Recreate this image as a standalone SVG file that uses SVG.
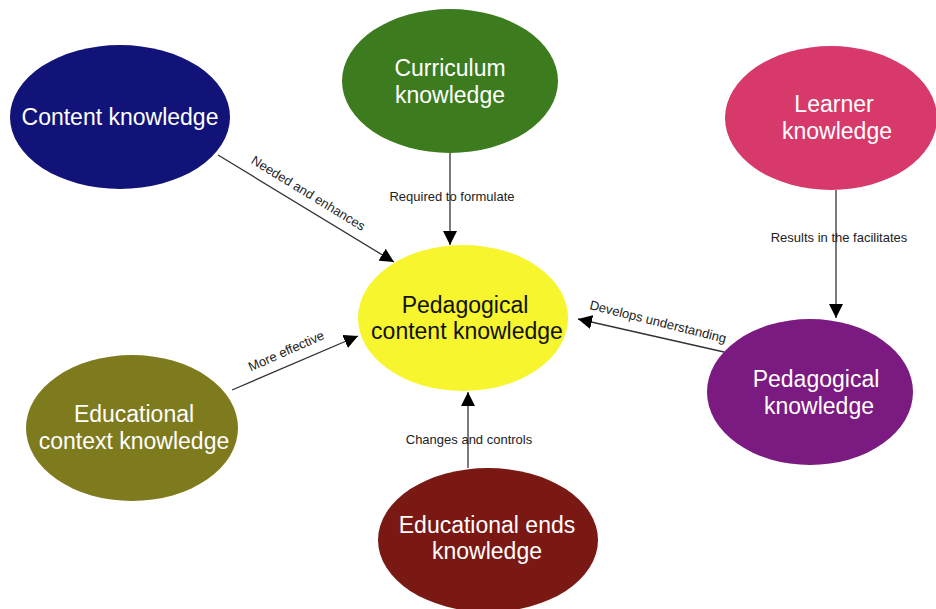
<svg xmlns="http://www.w3.org/2000/svg" width="936" height="609" viewBox="0 0 936 609">
<defs>
<marker id="arr" viewBox="0 0 10 10" refX="10" refY="5" markerWidth="14" markerHeight="14" markerUnits="userSpaceOnUse" orient="auto">
<path d="M0,0 L10,5 L0,10 z" fill="#000"/>
</marker>
<style>
.node text{font-family:"Liberation Sans",Arial,sans-serif;font-size:23px;fill:#fff;text-anchor:middle}
.lbl{font-family:"Liberation Sans",Arial,sans-serif;font-size:13px;fill:#222;text-anchor:middle}
.edge{stroke:#333;stroke-width:1.3;fill:none;marker-end:url(#arr)}
</style>
</defs>
<rect width="936" height="609" fill="#fff"/>
<g id="connectors">
<line class="edge" x1="218" y1="155" x2="394" y2="262"/>
<text class="lbl" transform="translate(306,197) rotate(31.5)">Needed and enhances</text>
<line class="edge" x1="450" y1="152" x2="450" y2="245"/>
<text class="lbl" x="452" y="201">Required to formulate</text>
<line class="edge" x1="836" y1="190" x2="836" y2="318"/>
<text class="lbl" x="839" y="242">Results in the facilitates</text>
<line class="edge" x1="724" y1="352" x2="578" y2="319"/>
<text class="lbl" transform="translate(657,326) rotate(14)">Develops understanding</text>
<line class="edge" x1="232" y1="390" x2="358" y2="336"/>
<text class="lbl" transform="translate(288,355) rotate(-24)">More effective</text>
<line class="edge" x1="468" y1="468" x2="468" y2="392"/>
<text class="lbl" x="469" y="444">Changes and controls</text>
</g>
<g id="content" class="node">
<ellipse cx="120" cy="117" rx="110" ry="72" fill="#121378"/>
<text x="120" y="125">Content knowledge</text>
</g>
<g id="curriculum" class="node">
<ellipse cx="450" cy="81" rx="108" ry="72" fill="#3c7b1e"/>
<text x="450" y="76">Curriculum</text>
<text x="450" y="103">knowledge</text>
</g>
<g id="learner" class="node">
<ellipse cx="831" cy="118" rx="106" ry="72" fill="#d6396a"/>
<text x="834" y="112">Learner</text>
<text x="837" y="139">knowledge</text>
</g>
<g id="pck" class="node">
<ellipse cx="463" cy="318" rx="105" ry="73" fill="#f6f52e"/>
<text x="465" y="313" style="fill:#111">Pedagogical</text>
<text x="467" y="339" style="fill:#111">content knowledge</text>
</g>
<g id="pedagogical" class="node">
<ellipse cx="810" cy="392" rx="103" ry="73" fill="#7b1a80"/>
<text x="816" y="387">Pedagogical</text>
<text x="819" y="414">knowledge</text>
</g>
<g id="context" class="node">
<ellipse cx="132" cy="428" rx="106" ry="73" fill="#7e7a1e"/>
<text x="134" y="422">Educational</text>
<text x="134" y="449">context knowledge</text>
</g>
<g id="ends" class="node">
<ellipse cx="488" cy="540" rx="110" ry="72" fill="#7a1813"/>
<text x="487" y="533">Educational ends</text>
<text x="487" y="559">knowledge</text>
</g>
</svg>
